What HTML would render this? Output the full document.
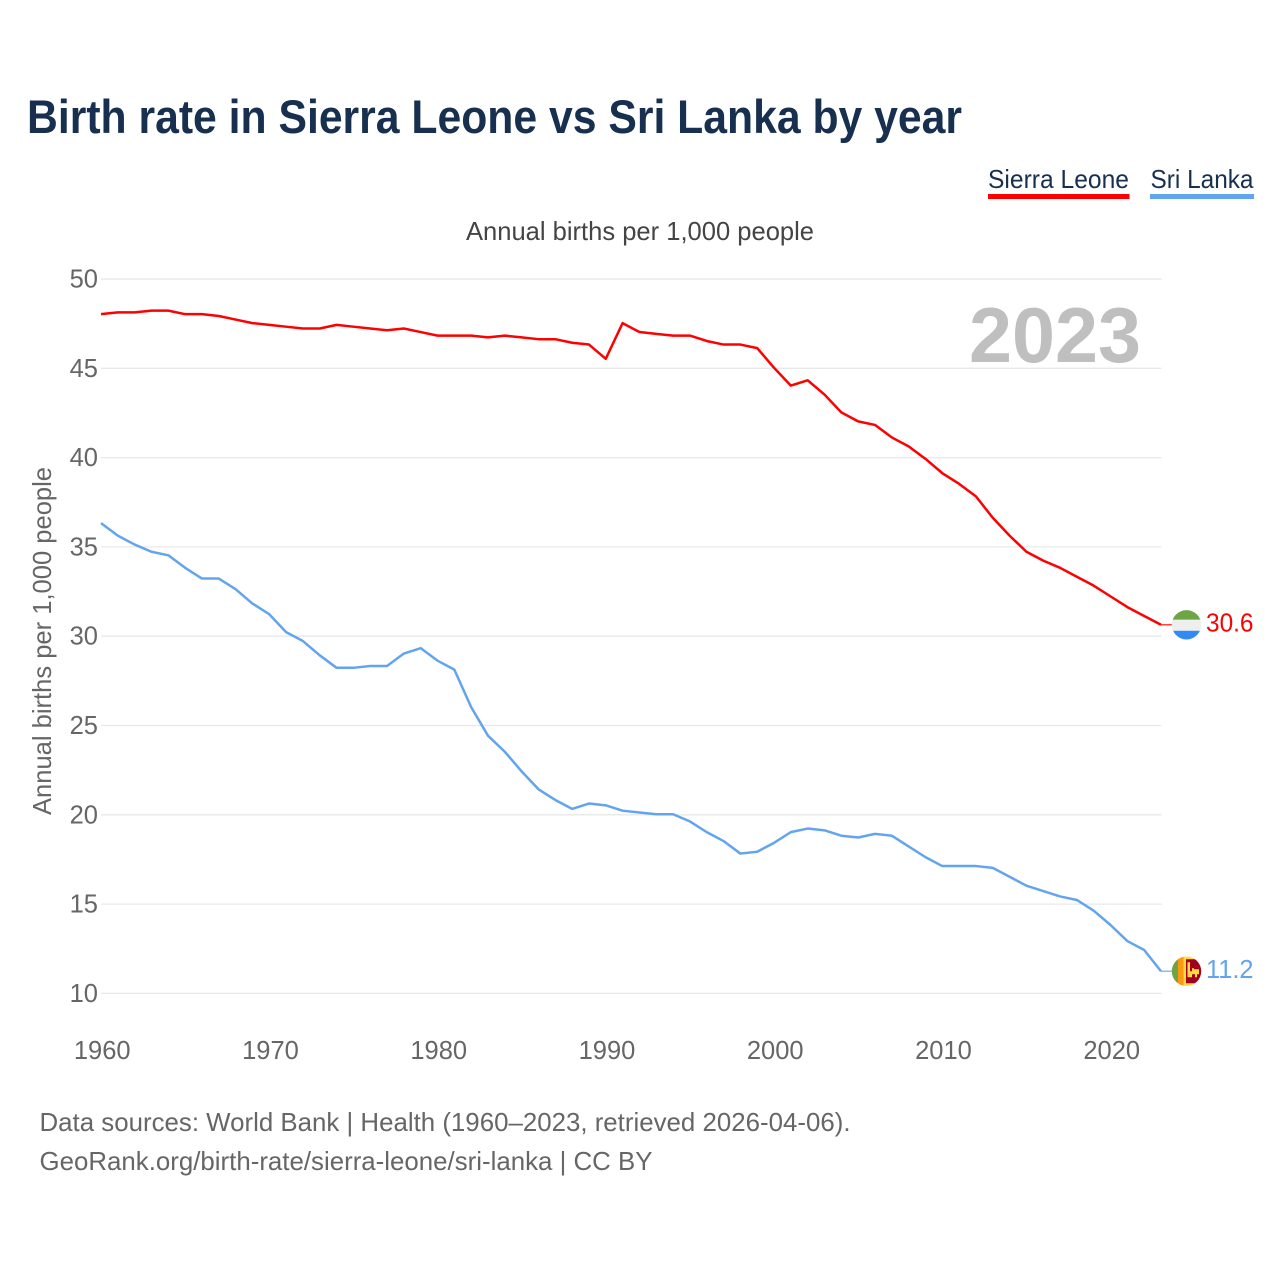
<!DOCTYPE html>
<html lang="en">
<head>
<meta charset="utf-8">
<title>Birth rate in Sierra Leone vs Sri Lanka by year</title>
<style>
html,body{margin:0;padding:0;background:#fff;}
svg{display:block;font-family:"Liberation Sans",sans-serif;}
</style>
</head>
<body>
<svg id="chart" xmlns="http://www.w3.org/2000/svg" width="1280" height="1280" viewBox="0 0 1280 1280">
  <rect width="1280" height="1280" fill="#ffffff"/>
  <text x="27" y="133" font-size="47" font-weight="700" fill="#17304f" textLength="935" lengthAdjust="spacingAndGlyphs">Birth rate in Sierra Leone vs Sri Lanka by year</text>

  <g>
    <text x="988" y="188" font-size="26" fill="#17304f" textLength="141" lengthAdjust="spacingAndGlyphs">Sierra Leone</text>
    <rect x="988" y="194" width="141.500" height="5" fill="#ff0000"/>
  </g>
  <g>
    <text x="1150.500" y="188" font-size="26" fill="#17304f" textLength="103" lengthAdjust="spacingAndGlyphs">Sri Lanka</text>
    <rect x="1150" y="194" width="104" height="5" fill="#62a5ee"/>
  </g>

  <text x="466" y="240" font-size="26" fill="#444444" textLength="348" lengthAdjust="spacingAndGlyphs">Annual births per 1,000 people</text>
  <text transform="translate(51,815) rotate(-90)" x="0" y="0" font-size="26" fill="#666666" textLength="348" lengthAdjust="spacingAndGlyphs">Annual births per 1,000 people</text>

  <g id="grid"></g>
  <g id="y-ticks"></g>
  <g id="x-ticks"></g>

  <text x="969" y="362" font-size="78" font-weight="700" fill="#bfbfbf" textLength="172" lengthAdjust="spacingAndGlyphs">2023</text>

  <g id="series"></g>

  <defs>
    <clipPath id="flag-clip-a" clipPathUnits="userSpaceOnUse"><circle cx="1186.5" cy="0" r="14.7"/></clipPath>
    <clipPath id="flag-clip-b" clipPathUnits="userSpaceOnUse"><circle cx="1186.5" cy="0" r="14.7"/></clipPath>
  </defs>

  <g id="flag-sl" clip-path="url(#flag-clip-a)">
    <rect x="1171" y="-16" width="31" height="11" fill="#6da544"/>
    <rect x="1171" y="-5" width="31" height="11" fill="#eeeeee"/>
    <rect x="1171" y="6" width="31" height="11" fill="#338af3"/>
  </g>
  <g id="flag-lk" clip-path="url(#flag-clip-b)">
    <rect x="1171" y="-16" width="31" height="32" fill="#ffda44"/>
    <rect x="1171" y="-16" width="7" height="32" fill="#6da544"/>
    <rect x="1178" y="-16" width="5.5" height="32" fill="#ff9811"/>
    <rect x="1186" y="-12" width="16" height="24" fill="#a2001d"/>
    <path d="M1187.500-9h2.500v9h2v-3h2v1h5v5h-2v3h-2v-3h-3v3h-4.500z" fill="#ffda44"/>
  </g>

  <text x="39.500" y="1131" font-size="26" fill="#666666" textLength="811" lengthAdjust="spacingAndGlyphs">Data sources: World Bank | Health (1960–2023, retrieved 2026-04-06).</text>
  <text x="39.500" y="1170" font-size="26" fill="#666666" textLength="613" lengthAdjust="spacingAndGlyphs">GeoRank.org/birth-rate/sierra-leone/sri-lanka | CC BY</text>
</svg>
<script>
const years = [1960,1961,1962,1963,1964,1965,1966,1967,1968,1969,1970,1971,1972,1973,1974,1975,1976,1977,1978,1979,1980,1981,1982,1983,1984,1985,1986,1987,1988,1989,1990,1991,1992,1993,1994,1995,1996,1997,1998,1999,2000,2001,2002,2003,2004,2005,2006,2007,2008,2009,2010,2011,2012,2013,2014,2015,2016,2017,2018,2019,2020,2021,2022,2023];
const sierraLeone = [48.03,48.13,48.13,48.23,48.23,48.03,48.03,47.93,47.73,47.53,47.43,47.33,47.23,47.23,47.43,47.33,47.23,47.13,47.23,47.03,46.83,46.83,46.83,46.73,46.83,46.73,46.63,46.63,46.43,46.33,45.53,47.53,47.03,46.93,46.83,46.83,46.53,46.33,46.33,46.13,45.03,44.03,44.33,43.53,42.53,42.03,41.83,41.13,40.63,39.93,39.13,38.53,37.83,36.63,35.63,34.73,34.23,33.83,33.33,32.83,32.23,31.63,31.13,30.64];
const sriLanka = [36.33,35.63,35.13,34.73,34.53,33.83,33.23,33.23,32.63,31.83,31.23,30.23,29.73,28.93,28.23,28.23,28.33,28.33,29.03,29.33,28.63,28.13,26.03,24.43,23.53,22.43,21.43,20.83,20.33,20.63,20.53,20.23,20.13,20.03,20.03,19.63,19.03,18.53,17.83,17.93,18.43,19.03,19.23,19.13,18.83,18.73,18.93,18.83,18.23,17.63,17.13,17.13,17.13,17.03,16.53,16.03,15.73,15.43,15.23,14.63,13.83,12.93,12.43,11.24];
const yTickValues = [10,15,20,25,30,35,40,45,50];
const xTickValues = [1960,1970,1980,1990,2000,2010,2020];

const NS = 'http://www.w3.org/2000/svg';
const plotLeft = 101, plotRight = 1161, plotTop = 279, plotBottom = 993.4;
function xScale(year) {
  return plotLeft + (year - years[0]) / (years[years.length - 1] - years[0]) * (plotRight - plotLeft);
}
function yScale(value) {
  return plotBottom - (value - 10) / 40 * (plotBottom - plotTop);
}
function make(tag, parent) {
  const el = document.createElementNS(NS, tag);
  parent.appendChild(el);
  return el;
}

const grid = document.getElementById('grid');
const yTicks = document.getElementById('y-ticks');
yTickValues.forEach(function (v) {
  const line = make('line', grid);
  
  
  line.setAttribute('x1', plotLeft);
  line.setAttribute('x2', plotRight + 0.5);
  line.setAttribute('y1', yScale(v));
  line.setAttribute('y2', yScale(v));
  line.setAttribute('stroke', '#e8e8e8');
  line.setAttribute('stroke-width', '1.3');
  const label = make('text', yTicks);
  
  
  label.setAttribute('x', 98);
  label.setAttribute('y', yScale(v) + 8.5);
  label.setAttribute('text-anchor', 'end');
  label.setAttribute('font-size', '25.5');
  label.setAttribute('fill', '#666666');
  label.textContent = String(v);
});

const xTicks = document.getElementById('x-ticks');
xTickValues.forEach(function (v) {
  const label = make('text', xTicks);
  
  
  label.setAttribute('x', xScale(v) + 1.2);
  label.setAttribute('y', 1059);
  label.setAttribute('text-anchor', 'middle');
  label.setAttribute('font-size', '25.5');
  label.setAttribute('fill', '#666666');
  label.textContent = String(v);
});

const seriesGroup = document.getElementById('series');
function drawSeries(values, color, lineName, tailName, valueName) {
  const points = values.map(function (v, i) {
    return xScale(years[i]).toFixed(2) + ',' + yScale(v).toFixed(2);
  }).join(' ');
  const poly = make('polyline', seriesGroup);
  
  
  poly.setAttribute('points', points);
  poly.setAttribute('fill', 'none');
  poly.setAttribute('stroke', color);
  poly.setAttribute('stroke-width', '2.5');
  poly.setAttribute('stroke-linejoin', 'round');
  const last = values[values.length - 1];
  const lastY = yScale(last);
  const tail = make('line', seriesGroup);
  
  
  tail.setAttribute('x1', plotRight);
  tail.setAttribute('x2', plotRight + 11);
  tail.setAttribute('y1', lastY);
  tail.setAttribute('y2', lastY);
  tail.setAttribute('stroke', color);
  tail.setAttribute('stroke-width', '1.5');
  tail.setAttribute('stroke-opacity', '0.75');
  const label = make('text', seriesGroup);
  
  
  label.setAttribute('x', 1206);
  label.setAttribute('y', lastY + 6.5);
  label.setAttribute('font-size', '25.5');
  label.setAttribute('fill', color);
  label.setAttribute('textLength', '47.5');
  label.setAttribute('lengthAdjust', 'spacingAndGlyphs');
  label.textContent = last.toFixed(1);
  return lastY;
}
const slY = drawSeries(sierraLeone, '#ff0000', 'line-sierra-leone', 'leader-sierra-leone', 'end-value-sierra-leone');
const lkY = drawSeries(sriLanka, '#62a5ee', 'line-sri-lanka', 'leader-sri-lanka', 'end-value-sri-lanka');

document.getElementById('flag-sl').setAttribute('transform', 'translate(0,' + slY + ')');
document.getElementById('flag-lk').setAttribute('transform', 'translate(0,' + lkY + ')');
</script>
</body>
</html>
